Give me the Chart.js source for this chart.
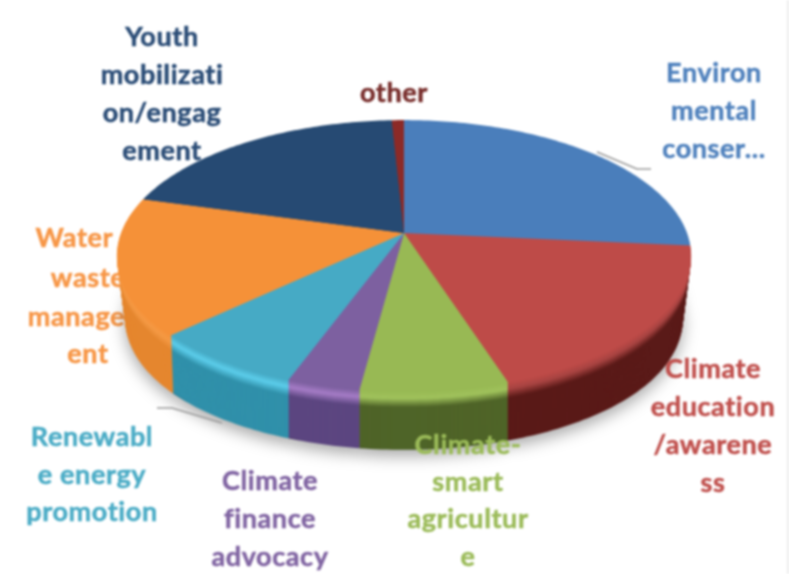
<!DOCTYPE html>
<html>
<head>
<meta charset="utf-8">
<script src="https://cdn.jsdelivr.net/npm/chart.js@4"></script>
<style>
html, body { margin: 0; padding: 0; background: #fff; overflow: hidden; }
canvas { display: block; filter: blur(0.8px); background: linear-gradient(to right, #fff 787px, #ececec 787px); }
</style>
</head>
<body>
<canvas id="grafico" width="789" height="574"></canvas>
<script>
var categorias = ["Environmental conservation", "Climate education/awareness", "Climate-smart agriculture",
    "Climate finance advocacy", "Renewable energy promotion", "Water & waste management",
    "Youth mobilization/engagement", "other"];
var valores = [26.5, 18.5, 7.1, 3.5, 7.4, 16.3, 19.9, 0.8];

// same wrapping as the picture, words cut where the original cuts them
var rotulos = [
    ["Environ", "mental", "conser..."],
    ["Climate", "education", "/awarene", "ss"],
    ["Climate-", "smart", "agricultur", "e"],
    ["Climate", "finance", "advocacy"],
    ["Renewabl", "e energy", "promotion"],
    ["Water &", "waste", "managem", "ent"],
    ["Youth", "mobilizati", "on/engag", "ement"],
    ["other"]
];

var coresTopo = ["#4a7ebb", "#be4b48", "#98b954", "#7d60a0", "#46aac5", "#f59138", "#264a73", "#8c2a27"];
var coresBorda = ["#4a7ebb", "#a84442", "#a0c25c", "#a57cc6", "#5ccdea", "#f59a45", "#264a73", "#8c2a27"];
var coresLado = ["#2f5584", "#5a1a18", "#4f6428", "#5c4680", "#3090aa", "#e5862e", "#1b3554", "#5c1a18"];
var coresTexto = ["#4f81bd", "#c0504d", "#9bbb59", "#8064a2", "#4bacc6", "#f79646", "#2a4c76", "#772c2a"];

// posicao dos rotulos: centro x e y de cada linha
var rotuloX = [714, 713, 468, 270, 92, 88, 162, 394];
var rotuloY = [[73, 111, 149], [369, 407, 445, 483], [445, 482, 519, 557], [481, 519, 557],
    [437, 475, 512], [238, 278, 317, 354], [37, 75, 113, 151], [93]];

// pizza em perspectiva
var cx = 404, cy = 233, raioX = 283, raioY = 132, persp = 0.169, altura = 58;

function misturar(c1, c2, t) {
    var a = parseInt(c1.slice(1), 16), b = parseInt(c2.slice(1), 16);
    var r = Math.round((a >> 16) * (1 - t) + (b >> 16) * t);
    var g = Math.round(((a >> 8) & 255) * (1 - t) + ((b >> 8) & 255) * t);
    var z = Math.round((a & 255) * (1 - t) + (b & 255) * t);
    return "rgb(" + r + "," + g + "," + z + ")";
}

function fatia(ctx, inicio, fim, desloc) {
    var passos = Math.max(2, Math.ceil((fim - inicio) * 60));
    ctx.beginPath();
    ctx.moveTo(cx, cy + desloc);
    for (var k = 0; k <= passos; k++) {
        var ang = inicio + (fim - inicio) * k / passos;
        var w = 1 - persp * Math.sin(ang);
        var c = Math.cos(ang);
        // a base encolhe so nas pontas, as divisoes da parede ficam retas
        var encolhe = 1 - 0.03 * (desloc / altura) * Math.pow(Math.abs(c), 4);
        ctx.lineTo(cx + encolhe * raioX * c / w, cy + desloc + raioY * Math.sin(ang) / w);
    }
    ctx.closePath();
    ctx.fill();
}

function fonteRotulo(ctx) {
    ctx.font = "bold 27px Lato";
    ctx.letterSpacing = "0.6px";
    ctx.textAlign = "center";
    ctx.textBaseline = "middle";
}

function escreverRotulo(ctx, i) {
    ctx.fillStyle = coresTexto[i];
    ctx.strokeStyle = coresTexto[i];
    ctx.lineWidth = 0.5;
    rotulos[i].forEach(function (linha, n) {
        ctx.fillText(linha, rotuloX[i], rotuloY[i][n]);
        ctx.strokeText(linha, rotuloX[i], rotuloY[i][n]);
    });
}

var pizza3d = {
    id: "pizza3d",
    beforeDatasetDraw: function (chart) {
        var ctx = chart.ctx;
        var fatias = chart.getDatasetMeta(0).data;
        ctx.save();
        fonteRotulo(ctx);
        escreverRotulo(ctx, 5); // este fica atras da pizza

        // parede lateral empilhada de baixo para cima
        for (var d = altura; d >= 0; d--) {
            ctx.shadowColor = d === altura ? "rgba(0,0,0,0.35)" : "transparent";
            ctx.shadowBlur = d === altura ? 16 : 0;
            ctx.shadowOffsetY = d === altura ? 6 : 0;
            fatias.forEach(function (el, i) {
                var cor;
                if (d === 0) cor = coresTopo[i];
                else if (d < 7) cor = misturar(coresTopo[i], coresBorda[i], d / 7);
                else if (d < 16) cor = misturar(coresBorda[i], coresLado[i], (d - 7) / 9);
                else cor = coresLado[i];
                ctx.fillStyle = cor;
                fatia(ctx, el.startAngle, el.endAngle, d);
            });
        }
        ctx.restore();
        return false;
    },
    afterDraw: function (chart) {
        var ctx = chart.ctx;
        ctx.save();
        // linhas de chamada
        ctx.strokeStyle = "#9a9a9a";
        ctx.lineWidth = 1.5;
        ctx.beginPath();
        ctx.moveTo(597, 152); ctx.lineTo(637, 169); ctx.lineTo(651, 169);
        ctx.moveTo(157, 408); ctx.lineTo(172, 408); ctx.lineTo(222, 423);
        ctx.stroke();
        fonteRotulo(ctx);
        for (var i = 0; i < rotulos.length; i++) {
            if (i !== 5) escreverRotulo(ctx, i);
        }
        ctx.restore();
    }
};

var grafico = new Chart(document.getElementById("grafico").getContext("2d"), {
    type: "pie",
    data: {
        labels: categorias,
        datasets: [{ data: valores, backgroundColor: coresTopo, borderWidth: 0 }]
    },
    options: {
        responsive: false,
        animation: false,
        plugins: { legend: { display: false }, tooltip: { enabled: false } }
    },
    plugins: [pizza3d]
});
</script>
</body>
</html>
